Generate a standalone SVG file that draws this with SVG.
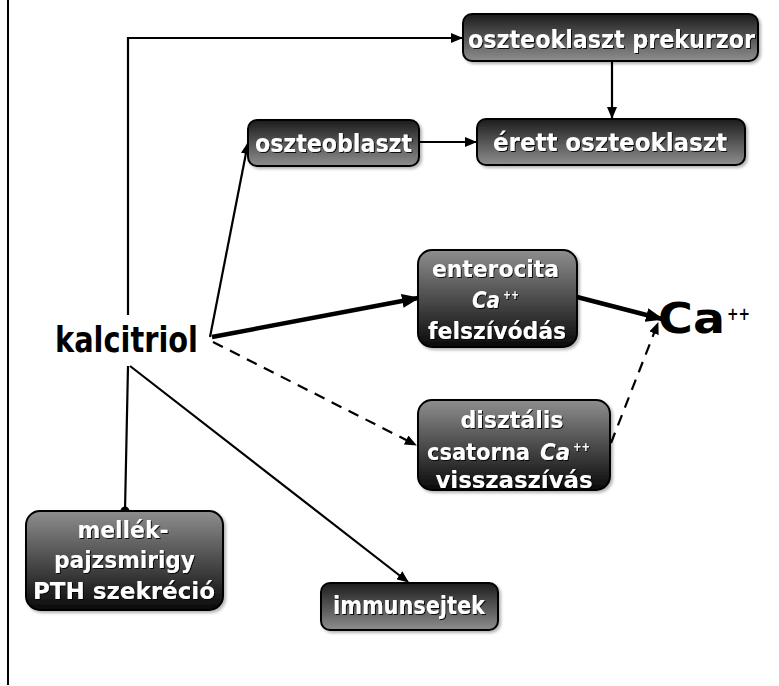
<svg xmlns="http://www.w3.org/2000/svg" width="779" height="686" viewBox="0 0 779 686">
<defs>
<linearGradient id="gDown" x1="0" y1="0" x2="0" y2="1">
<stop offset="0" stop-color="#1c1c1c"/><stop offset="1" stop-color="#8e8e8e"/>
</linearGradient>
<linearGradient id="gUp" x1="0" y1="0" x2="0" y2="1">
<stop offset="0" stop-color="#8e8e8e"/><stop offset="1" stop-color="#0a0a0a"/>
</linearGradient>
<filter id="bs" x="-10%" y="-10%" width="130%" height="140%">
<feDropShadow dx="2" dy="2" stdDeviation="1.5" flood-color="#000" flood-opacity="0.3"/>
</filter>
<filter id="ts" x="-10%" y="-20%" width="130%" height="150%">
<feDropShadow dx="1" dy="1" stdDeviation="0.6" flood-color="#000" flood-opacity="0.9"/>
</filter>
<marker id="ar" markerUnits="userSpaceOnUse" markerWidth="12" markerHeight="10" refX="11" refY="5" orient="auto">
<path d="M0,0 L12,5 L0,10 z" fill="#000"/>
</marker>
<marker id="arT" markerUnits="userSpaceOnUse" markerWidth="18" markerHeight="14" refX="16" refY="7" orient="auto">
<path d="M0,0 L18,7 L0,14 z" fill="#000"/>
</marker>
<marker id="dot" markerUnits="userSpaceOnUse" markerWidth="12" markerHeight="12" refX="6" refY="6" orient="auto">
<circle cx="6" cy="6" r="4.5" fill="#000"/>
</marker>
</defs>
<style>
.box{stroke:#000;stroke-width:2;filter:url(#bs)}
.bt{font-family:"DejaVu Sans","Liberation Sans",sans-serif;font-weight:bold;fill:#fff;text-anchor:middle;filter:url(#ts)}
.st{text-anchor:start}
.it{font-style:italic}
.c{fill:none;stroke:#000;stroke-width:2.2}
.thick{stroke-width:4.5}
.dash{stroke-dasharray:11 8}
.lbl{font-family:"DejaVu Sans","Liberation Sans",sans-serif;font-weight:bold;fill:#000}
</style>
<rect width="779" height="686" fill="#fff"/>
<line x1="8" y1="0" x2="8" y2="685" stroke="#000" stroke-width="2"/>

<g id="connectors">
<polyline class="c" points="128,315 128,38 462,38" marker-end="url(#ar)"/>
<line class="c" x1="612" y1="61" x2="612" y2="118" marker-end="url(#ar)"/>
<line class="c" x1="420" y1="142" x2="476" y2="142" stroke-width="2.8" marker-end="url(#ar)"/>
<line class="c" x1="210" y1="337" x2="248" y2="143" marker-end="url(#ar)"/>
<line class="c thick" x1="212" y1="337" x2="418" y2="298" marker-end="url(#arT)"/>
<line class="c thick" x1="577" y1="297" x2="662" y2="319" marker-end="url(#arT)"/>
<line class="c dash" x1="213" y1="342" x2="416" y2="445" marker-end="url(#ar)"/>
<line class="c dash" x1="611" y1="443" x2="658" y2="323" marker-end="url(#ar)"/>
<line class="c" x1="128" y1="366" x2="125" y2="511" marker-end="url(#dot)"/>
<line class="c" x1="130" y1="366" x2="408" y2="582" marker-end="url(#ar)"/>
</g>

<g id="kalcitriol">
<text class="lbl" x="55" y="352" font-size="35" textLength="143" lengthAdjust="spacingAndGlyphs">kalcitriol</text>
</g>

<g id="ca">
<text class="lbl" x="658" y="333" font-size="42" textLength="67" lengthAdjust="spacingAndGlyphs">Ca</text>
<text class="lbl" x="727" y="320" font-size="17" textLength="23" lengthAdjust="spacingAndGlyphs">++</text>
</g>

<g id="prekurzor">
<rect class="box" x="463" y="14" width="295" height="47" rx="9" fill="url(#gDown)"/>
<text class="bt" x="611.5" y="48" font-size="24" textLength="287" lengthAdjust="spacingAndGlyphs">oszteoklaszt prekurzor</text>
</g>

<g id="erett">
<rect class="box" x="477" y="119" width="268" height="46" rx="9" fill="url(#gDown)"/>
<text class="bt" x="610" y="151" font-size="24" textLength="234" lengthAdjust="spacingAndGlyphs">érett oszteoklaszt</text>
</g>

<g id="oszteoblaszt">
<rect class="box" x="248" y="120" width="171" height="46" rx="9" fill="url(#gDown)"/>
<text class="bt" x="333.5" y="152" font-size="24" textLength="157" lengthAdjust="spacingAndGlyphs">oszteoblaszt</text>
</g>

<g id="enterocita">
<rect class="box" x="418" y="250" width="159" height="97" rx="14" fill="url(#gUp)"/>
<text class="bt" x="495.5" y="277" font-size="23" textLength="127" lengthAdjust="spacingAndGlyphs">enterocita</text>
<text class="bt st it" x="472" y="308" font-size="23" textLength="28" lengthAdjust="spacingAndGlyphs">Ca</text>
<text class="bt st" x="503" y="299" font-size="13" textLength="16" lengthAdjust="spacingAndGlyphs">++</text>
<text class="bt" x="497" y="339" font-size="23" textLength="138" lengthAdjust="spacingAndGlyphs">felszívódás</text>
</g>

<g id="disztalis">
<rect class="box" x="418" y="400" width="192" height="90" rx="14" fill="url(#gUp)"/>
<text class="bt" x="512" y="428" font-size="23" textLength="103" lengthAdjust="spacingAndGlyphs">disztális</text>
<text class="bt st" x="427" y="460" font-size="23" textLength="103" lengthAdjust="spacingAndGlyphs">csatorna</text>
<text class="bt st it" x="540" y="460" font-size="23" textLength="30" lengthAdjust="spacingAndGlyphs">Ca</text>
<text class="bt st" x="573" y="451" font-size="13" textLength="17" lengthAdjust="spacingAndGlyphs">++</text>
<text class="bt" x="514" y="488" font-size="23" textLength="157" lengthAdjust="spacingAndGlyphs">visszaszívás</text>
</g>

<g id="mellek">
<rect class="box" x="26" y="511" width="197" height="99" rx="14" fill="url(#gUp)"/>
<text class="bt" x="123" y="538" font-size="23" textLength="91" lengthAdjust="spacingAndGlyphs">mellék-</text>
<text class="bt" x="124.5" y="568" font-size="23" textLength="141" lengthAdjust="spacingAndGlyphs">pajzsmirigy</text>
<text class="bt" x="124" y="599" font-size="23" textLength="182" lengthAdjust="spacingAndGlyphs">PTH szekréció</text>
</g>

<g id="immunsejtek">
<rect class="box" x="321" y="583" width="177" height="47" rx="9" fill="url(#gDown)"/>
<text class="bt" x="409" y="614" font-size="24" textLength="152" lengthAdjust="spacingAndGlyphs">immunsejtek</text>
</g>
</svg>
